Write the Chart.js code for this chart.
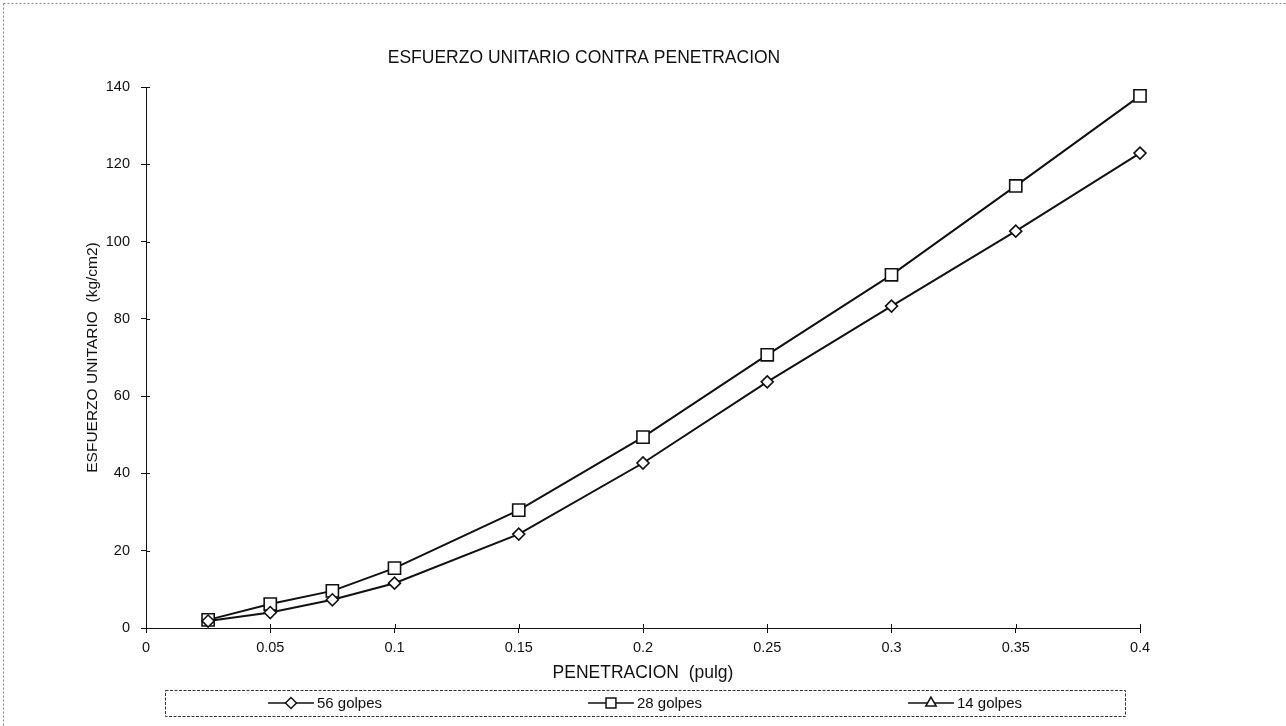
<!DOCTYPE html>
<html>
<head>
<meta charset="utf-8">
<title>Esfuerzo unitario contra penetración</title>
<script src="https://cdn.jsdelivr.net/npm/chart.js@4/dist/chart.umd.min.js"></script>
<style>
  html, body { margin: 0; padding: 0; background: #ffffff; }
  #wrap { width: 1286px; height: 726px; position: relative; }
  canvas { display: block; }
</style>
</head>
<body>
<div id="wrap"><canvas id="c" width="1286" height="726"></canvas></div>
<script>
// Penetration readings (pulg)
const penetration = [0.025, 0.05, 0.075, 0.1, 0.15, 0.2, 0.25, 0.3, 0.35, 0.4];
// Unit stress (kg/cm2) for each compaction energy
const golpes56 = [1.8, 4.0, 7.3, 11.6, 24.3, 42.7, 63.7, 83.3, 102.7, 122.9];
const golpes28 = [2.1, 6.2, 9.6, 15.5, 30.5, 49.4, 70.7, 91.4, 114.4, 137.7];
const golpes14 = [];
// Axis tick values
const xTicks = [0, 0.05, 0.1, 0.15, 0.2, 0.25, 0.3, 0.35, 0.4];
const yTicks = [0, 20, 40, 60, 80, 100, 120, 140];
const seriesNames = ['56 golpes', '28 golpes', '14 golpes'];

const FONT = "'Liberation Sans', Arial, Helvetica, sans-serif";
const INK = '#111111';

function points(values) {
  return values.map((y, i) => ({ x: penetration[i], y }));
}

function seriesStyle(pointStyle, radius) {
  return {
    borderColor: INK,
    borderWidth: 2,
    pointStyle: pointStyle,
    pointRadius: radius,
    pointHoverRadius: radius,
    pointBackgroundColor: '#ffffff',
    pointBorderColor: INK,
    pointBorderWidth: 1.6,
    tension: 0,
    fill: false,
    clip: false
  };
}

// Dotted page frame along the left and top edges
const pageFrame = {
  id: 'pageFrame',
  beforeDraw(chart) {
    const ctx = chart.ctx;
    ctx.save();
    ctx.strokeStyle = '#8a8a8a';
    ctx.lineWidth = 1;
    ctx.setLineDash([2, 2]);
    ctx.beginPath();
    ctx.moveTo(3.5, 3.5);
    ctx.lineTo(chart.width, 3.5);
    ctx.moveTo(3.5, 3.5);
    ctx.lineTo(3.5, chart.height);
    ctx.stroke();
    ctx.restore();
  }
};

// Tick marks that cross to the inside of both axes
const innerTicks = {
  id: 'innerTicks',
  afterDraw(chart) {
    const ctx = chart.ctx;
    const xs = chart.scales.x, ys = chart.scales.y;
    const area = chart.chartArea;
    ctx.save();
    ctx.strokeStyle = INK;
    ctx.lineWidth = 1;
    ctx.beginPath();
    xs.ticks.forEach(t => {
      const px = Math.round(xs.getPixelForValue(t.value)) + 0.5;
      ctx.moveTo(px, area.bottom);
      ctx.lineTo(px, area.bottom - 4);
    });
    ys.ticks.forEach(t => {
      const py = Math.round(ys.getPixelForValue(t.value)) + 0.5;
      ctx.moveTo(area.left, py);
      ctx.lineTo(area.left + 4, py);
    });
    ctx.stroke();
    ctx.restore();
  }
};

// Boxed legend below the axis title: line + marker + name for each series
const boxedLegend = {
  id: 'boxedLegend',
  afterDraw(chart) {
    const ctx = chart.ctx;
    const left = 165, right = 1125, top = 690, bottom = 716;
    ctx.save();
    ctx.strokeStyle = '#333333';
    ctx.lineWidth = 1;
    ctx.setLineDash([3, 1.5]);
    ctx.strokeRect(left + 0.5, top + 0.5, right - left, bottom - top);
    ctx.setLineDash([]);

    const slot = (right - left) / chart.data.datasets.length;
    const cy = (top + bottom) / 2;
    ctx.font = '15px ' + FONT;
    ctx.textBaseline = 'middle';
    ctx.textAlign = 'left';
    chart.data.datasets.forEach((ds, i) => {
      const textW = ctx.measureText(ds.label).width;
      const lineW = 46, gap = 3;
      const itemW = lineW + gap + textW;
      const x0 = left + slot * i + (slot - itemW) / 2;
      // line sample
      ctx.strokeStyle = INK;
      ctx.lineWidth = 1.3;
      ctx.beginPath();
      ctx.moveTo(x0, cy);
      ctx.lineTo(x0 + lineW, cy);
      ctx.stroke();
      // marker sample
      ctx.fillStyle = '#ffffff';
      ctx.strokeStyle = INK;
      ctx.lineWidth = 1.5;
      ctx.beginPath();
      Chart.helpers.drawPoint(ctx, {
        pointStyle: ds.pointStyle,
        radius: ds.pointStyle === 'rect' ? 7 : (ds.pointStyle === 'triangle' ? 6 : 5.5),
        borderWidth: 1.5,
        rotation: 0
      }, x0 + lineW / 2, cy);
      ctx.fillStyle = INK;
      ctx.fillText(ds.label, x0 + lineW + gap, cy + 1);
    });
    ctx.restore();
  }
};

const ctx = document.getElementById('c').getContext('2d');
new Chart(ctx, {
  type: 'line',
  data: {
    datasets: [
      Object.assign({ label: seriesNames[0], data: points(golpes56) }, seriesStyle('rectRot', 6)),
      Object.assign({ label: seriesNames[1], data: points(golpes28) }, seriesStyle('rect', 8.6)),
      Object.assign({ label: seriesNames[2], data: points(golpes14) }, seriesStyle('triangle', 6))
    ]
  },
  options: {
    responsive: false,
    animation: false,
    devicePixelRatio: 1,
    layout: { padding: { left: 28, right: 146, top: 0, bottom: 38 } },
    plugins: {
      legend: { display: false },
      tooltip: { enabled: false },
      title: {
        display: true,
        text: 'ESFUERZO UNITARIO CONTRA PENETRACION',
        color: INK,
        font: { family: FONT, size: 17.5, weight: 'normal' },
        padding: { top: 48, bottom: 18 }
      }
    },
    scales: {
      x: {
        type: 'linear',
        min: 0,
        max: 0.4,
        afterBuildTicks(scale) { scale.ticks = xTicks.map(v => ({ value: v })); },
        afterFit(scale) { scale.height = 60; },
        ticks: {
          color: INK,
          font: { family: FONT, size: 14.5 },
          padding: 6,
          maxRotation: 0,
          autoSkip: false,
          callback: v => String(+v.toFixed(3))
        },
        grid: { display: true, drawOnChartArea: false, drawTicks: true, tickLength: 5, color: INK, lineWidth: 1 },
        border: { display: true, color: INK, width: 1 },
        title: {
          display: true,
          text: 'PENETRACION  (pulg)',
          color: INK,
          font: { family: FONT, size: 17.5, weight: 'normal' },
          padding: { top: 0, bottom: 4 }
        }
      },
      y: {
        type: 'linear',
        min: 0,
        max: 140,
        afterBuildTicks(scale) { scale.ticks = yTicks.map(v => ({ value: v })); },
        afterFit(scale) { scale.width = 118; },
        ticks: {
          color: INK,
          font: { family: FONT, size: 14.5 },
          padding: 11,
          autoSkip: false
        },
        grid: { display: true, drawOnChartArea: false, drawTicks: true, tickLength: 5, color: INK, lineWidth: 1 },
        border: { display: true, color: INK, width: 1 },
        title: {
          display: true,
          text: 'ESFUERZO UNITARIO  (kg/cm2)',
          color: INK,
          font: { family: FONT, size: 15.5, weight: 'normal' },
          padding: { top: 55, bottom: 0 }
        }
      }
    }
  },
  plugins: [pageFrame, innerTicks, boxedLegend]
});
</script>
</body>
</html>
